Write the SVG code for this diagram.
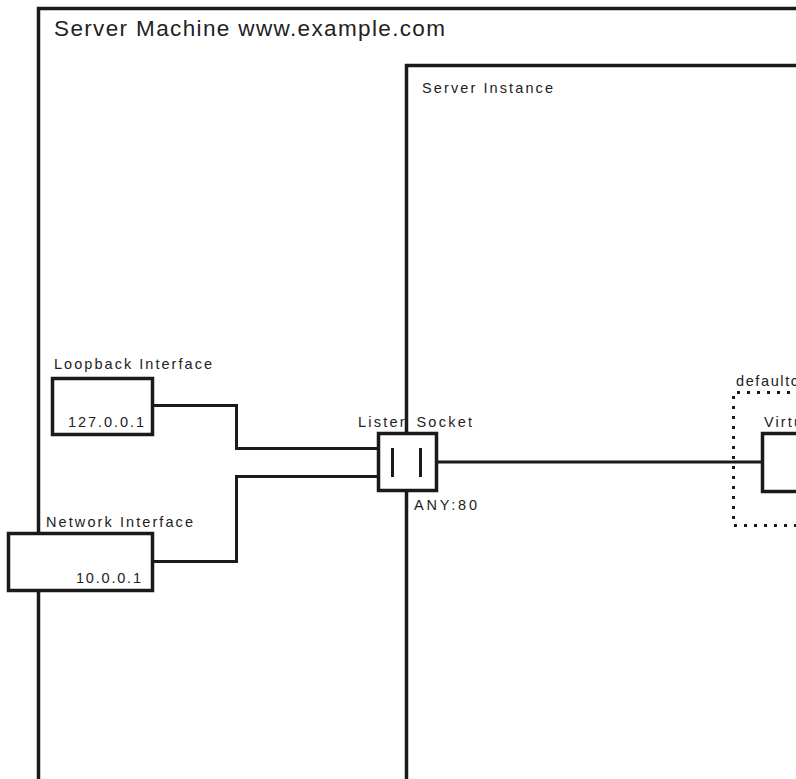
<svg xmlns="http://www.w3.org/2000/svg" width="796" height="779" viewBox="0 0 796 779">
<style>
.frame{fill:none;stroke:#1a1a1a;stroke-width:3.5}
.box{fill:#fff;stroke:#1a1a1a;stroke-width:3.5}
.wire{fill:none;stroke:#1a1a1a;stroke-width:3}
.dots{fill:none;stroke:#1a1a1a;stroke-width:3;stroke-dasharray:3 7}
text{font-family:"Liberation Sans",Arial,sans-serif;fill:#222}
.big{font-size:22.5px}
.lbl{font-size:14.5px}
</style>
<rect width="796" height="779" fill="#fff"/>
<g id="server-machine">
<path class="frame" d="M38.5,781 V8.5 H800"/>
<text class="big" x="54" y="36" textLength="391" lengthAdjust="spacing">Server Machine www.example.com</text>
</g>
<g id="server-instance">
<path class="frame" d="M406.5,781 V65.5 H800"/>
<text class="lbl" x="422" y="93" textLength="131" lengthAdjust="spacing">Server Instance</text>
</g>
<g id="connectors">
<path class="wire" d="M152,405.5 H236.5 V448.5 H379"/>
<path class="wire" d="M152,561.5 H236.5 V476.5 H379"/>
<path class="wire" d="M436,462 H763"/>
</g>
<g id="loopback-interface">
<rect class="box" x="52.5" y="378.5" width="100" height="56"/>
<text class="lbl" x="54" y="369" textLength="158" lengthAdjust="spacing">Loopback Interface</text>
<text class="lbl" x="68" y="427" textLength="76" lengthAdjust="spacing">127.0.0.1</text>
</g>
<g id="network-interface">
<rect class="box" x="8.5" y="533.5" width="144" height="57"/>
<text class="lbl" x="46" y="527" textLength="147" lengthAdjust="spacing">Network Interface</text>
<text class="lbl" x="76" y="583" textLength="65" lengthAdjust="spacing">10.0.0.1</text>
</g>
<g id="listen-socket">
<rect class="box" x="378.5" y="433.5" width="58" height="57"/>
<path class="wire" d="M392.5,448 V477 M420.5,448 V477"/>
<text class="lbl" x="358" y="427" textLength="114" lengthAdjust="spacing">Listen Socket</text>
<text class="lbl" x="414" y="510" textLength="63" lengthAdjust="spacing">ANY:80</text>
</g>
<g id="default-group">
<path class="dots" d="M800,392.5 H733.5 V525.5 H800"/>
<text class="lbl" x="736" y="386" textLength="62" lengthAdjust="spacing">defaultc</text>
</g>
<g id="virtual-host">
<rect class="box" x="762.5" y="433.5" width="60" height="58"/>
<text class="lbl" x="764" y="427" textLength="38" lengthAdjust="spacing">Virtu</text>
</g>
</svg>
